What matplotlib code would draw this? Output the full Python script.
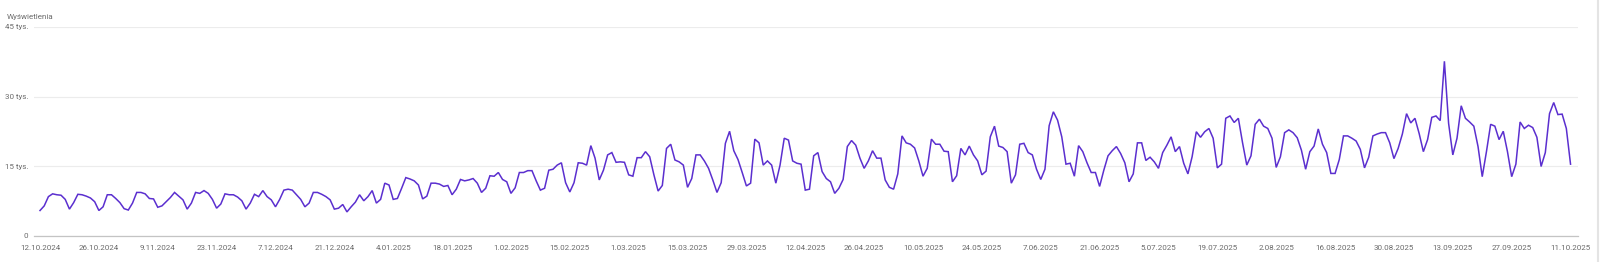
import matplotlib
matplotlib.use("Agg")
import matplotlib.pyplot as plt
from matplotlib.lines import Line2D
import numpy as np
import pandas as pd

plt.rcParams['font.family'] = ['Roboto', 'DejaVu Sans']

# dane: dzienne wyświetlenia (tys.), 12.10.2024 - 11.10.2025
dates = pd.date_range('2024-10-12', '2025-10-11', freq='D')
views = [
    5.4, 6.4, 8.4, 9.0, 8.8, 8.7, 7.8, 5.7, 7.1, 8.9, 8.8, 8.5, 8.1, 7.3,
    5.4, 6.2, 8.8, 8.8, 8.0, 7.1, 5.8, 5.5, 7.0, 9.3, 9.3, 9.0, 8.0, 7.9,
    6.1, 6.4, 7.3, 8.2, 9.3, 8.5, 7.7, 5.7, 7.0, 9.3, 9.1, 9.7, 9.1, 7.8,
    5.9, 6.8, 9.0, 8.8, 8.8, 8.3, 7.5, 5.7, 7.0, 8.9, 8.4, 9.7, 8.4, 7.7,
    6.2, 7.8, 9.8, 10.0, 9.8, 8.8, 7.8, 6.2, 7.0, 9.3, 9.3, 8.9, 8.4, 7.7,
    5.7, 5.9, 6.7, 5.1, 6.2, 7.2, 8.8, 7.5, 8.4, 9.7, 7.0, 7.8, 11.3, 10.9,
    7.8, 8.0, 10.2, 12.5, 12.2, 11.8, 10.9, 7.9, 8.5, 11.3, 11.3, 11.1, 10.6, 10.8,
    8.8, 10.0, 12.1, 11.8, 12.0, 12.3, 11.3, 9.3, 10.2, 12.9, 12.8, 13.6, 12.1, 11.6,
    9.1, 10.3, 13.6, 13.6, 14.0, 14.0, 11.8, 9.8, 10.2, 14.1, 14.3, 15.2, 15.7, 11.4,
    9.4, 11.4, 15.7, 15.6, 15.2, 19.4, 16.7, 12.0, 14.1, 17.4, 17.9, 15.8, 15.9, 15.8,
    13.1, 12.8, 16.8, 16.8, 18.1, 17.0, 13.1, 9.6, 10.8, 18.8, 19.7, 16.3, 15.9, 15.2,
    10.4, 12.3, 17.4, 17.4, 16.1, 14.5, 12.0, 9.3, 11.4, 19.9, 22.5, 18.3, 16.4, 13.6,
    10.7, 11.3, 20.8, 20.0, 15.2, 16.1, 15.2, 11.3, 15.2, 21.0, 20.6, 16.1, 15.6, 15.4,
    9.8, 10.0, 17.2, 17.9, 13.8, 12.3, 11.6, 9.1, 10.2, 12.1, 19.2, 20.5, 19.5, 16.7,
    14.5, 16.1, 18.3, 16.7, 16.7, 12.0, 10.4, 10.0, 13.3, 21.5, 20.0, 19.7, 18.9, 16.1,
    12.8, 14.5, 20.8, 19.7, 19.7, 18.2, 18.1, 11.6, 12.9, 18.8, 17.4, 19.3, 17.4, 16.1,
    13.1, 13.9, 21.3, 23.6, 19.3, 19.0, 18.1, 11.3, 13.1, 19.7, 19.9, 17.9, 17.4, 14.3,
    12.1, 14.3, 23.7, 26.7, 24.9, 21.3, 15.4, 15.6, 12.8, 19.4, 18.1, 15.7, 13.6, 13.6,
    10.6, 14.1, 17.2, 18.3, 19.2, 17.7, 15.7, 11.6, 13.3, 20.0, 20.0, 16.2, 16.9, 15.9,
    14.5, 17.9, 19.5, 21.3, 18.1, 19.2, 15.6, 13.3, 17.0, 22.4, 21.2, 22.4, 23.1, 21.0,
    14.6, 15.4, 25.3, 25.8, 24.4, 25.3, 20.0, 15.2, 17.2, 24.0, 25.1, 23.6, 23.1, 21.0,
    14.7, 17.0, 22.2, 22.8, 22.2, 21.1, 18.4, 14.3, 18.1, 19.3, 23.0, 19.7, 17.9, 13.4,
    13.4, 16.4, 21.5, 21.5, 21.0, 20.4, 18.6, 14.6, 16.9, 21.5, 21.9, 22.2, 22.2, 20.0,
    16.6, 18.8, 21.9, 26.3, 24.3, 25.3, 22.0, 18.1, 20.7, 25.5, 25.8, 24.8, 37.6, 24.2,
    17.4, 21.0, 28.0, 25.3, 24.5, 23.6, 19.2, 12.7, 18.1, 24.0, 23.6, 20.7, 22.5, 18.1,
    12.7, 15.4, 24.5, 23.1, 23.8, 23.3, 21.2, 14.9, 17.9, 26.3, 28.7, 26.1, 26.2, 23.1,
    15.4,
]

tick_dates = pd.date_range('2024-10-12', '2025-10-11', freq='14D')
tick_labels = [f"{d.day}.{d.month:02d}.{d.year}" for d in tick_dates]
y_ticks = [0, 15, 30, 45]
y_labels = ['0', '15 tys.', '30 tys.', '45 tys.']

fig = plt.figure(figsize=(16, 2.62), dpi=100)
ax = fig.add_axes([0.02125, 0.101, 0.9647, 0.796])

ax.plot(dates, views, color='#5b2fcf', lw=1.1, solid_joinstyle='miter')

day = pd.Timedelta(days=1)
ax.set_xlim(dates[0] - 1.43 * day, dates[-1] + 1.66 * day)
ax.set_ylim(0, 45)

ax.set_yticks(y_ticks)
ax.set_yticklabels(y_labels)
ax.set_xticks(tick_dates)
ax.set_xticklabels(tick_labels)
ax.tick_params(axis='both', length=0, labelsize=5.8, colors='#6b6b6b')
ax.tick_params(axis='y', pad=4)
ax.tick_params(axis='x', pad=7)

ax.grid(axis='y', color='#ececec', lw=0.8)
ax.grid(axis='x', visible=False)
for s in ['top', 'right', 'left']:
    ax.spines[s].set_visible(False)
ax.spines['bottom'].set_color('#c4c4c4')
ax.spines['bottom'].set_linewidth(0.9)
ax.set_axisbelow(True)

fig.text(0.0045, 1 - 17 / 262, 'Wyświetlenia', fontsize=5.8, color='#6b6b6b',
         ha='left', va='center')

# szara krawędź panelu po prawej
fig.add_artist(Line2D([0.9985, 0.9985], [0, 1], transform=fig.transFigure,
                      color='#e4e4e4', lw=1.5))

fig.savefig('out.png', dpi=100, facecolor='white')
